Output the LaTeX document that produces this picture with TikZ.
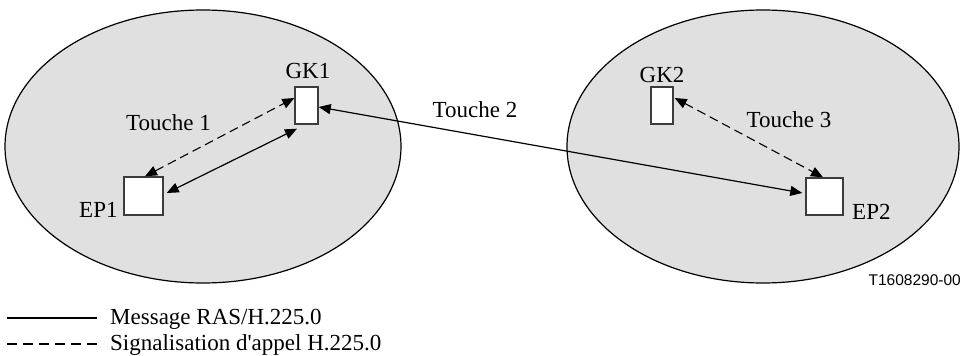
\documentclass[tikz,border=0pt]{standalone}
\usepackage{fontspec}
\setmainfont{Liberation Serif}
\newfontfamily\labsans{Liberation Sans}
\usetikzlibrary{arrows.meta}
\definecolor{zonegray}{RGB}{224,224,224}
\definecolor{boxline}{RGB}{60,60,60}
\begin{document}
\begin{tikzpicture}[x=1pt,y=-1pt,
  zone/.style={draw=black,line width=1.2pt,fill=zonegray},
  unit/.style={draw=boxline,line width=1.4pt,fill=white,inner sep=0pt,minimum width=#1},
  lab/.style={inner sep=0pt,anchor=base,font=\fontsize{23}{27}\selectfont},
  labw/.style={lab,anchor=base west},
  ras/.style={line width=1.2pt,{Triangle[length=12pt,width=10pt]}-{Triangle[length=12pt,width=10pt]}},
  sig/.style={line width=1.1pt,dash pattern=on 9pt off 5pt,{Triangle[length=12pt,width=10pt]}-{Triangle[length=12pt,width=10pt]}},
  legras/.style={line width=1.4pt},
  legsig/.style={line width=1.4pt,dash pattern=on 10pt off 6pt}]
\useasboundingbox (0,0) rectangle (962,356);
% zones
\draw[zone] (203,146.5) ellipse [x radius=198, y radius=136.5];
\draw[zone] (763,146.5) ellipse [x radius=196, y radius=136.5];
% units
\node[unit=23pt,minimum height=37pt] (GK1) at (306.5,105.5) {};
\node[unit=39pt,minimum height=38pt] (EP1) at (143.5,196) {};
\node[unit=22pt,minimum height=37pt] (GK2) at (662,105.5) {};
\node[unit=37pt,minimum height=37pt] (EP2) at (824.5,196.5) {};
% labels
\node[lab] (tGK1) at (308,78) {GK1};
\node[lab] (tGK2) at (662,82) {GK2};
\node[labw] (tEP1) at (79,217) {EP1};
\node[labw] (tEP2) at (852,219) {EP2};
\node[lab] (t1) at (168.5,130) {Touche 1};
\node[lab] (t2) at (475,117) {Touche 2};
\node[lab] (t3) at (789,127) {Touche 3};
% connectors
\draw[sig] ([xshift=1.5pt]EP1.north) -- ([yshift=7.5pt]GK1.west);
\draw[ras] ([xshift=3pt,yshift=3pt]EP1.east) -- ([xshift=-9.5pt,yshift=-4pt]GK1.south);
\draw[ras] ([yshift=-1.5pt]GK1.east) -- ([xshift=-3pt,yshift=3.5pt]EP2.west);
\draw[sig] ([xshift=1pt,yshift=7.5pt]GK2.east) -- ([xshift=-1.5pt]EP2.north);
% legend
\coordinate (la1) at (7,318);
\coordinate (la2) at (97,318);
\coordinate (lb1) at (7,344);
\coordinate (lb2) at (97,344);
\draw[legras] (la1) -- (la2);
\draw[legsig] (lb1) -- (lb2);
\node[labw] (lega) at (110,324) {Message RAS/H.225.0};
\node[labw] (legb) at (110,350) {Signalisation d\textquotesingle appel H.225.0};
\node[inner sep=0pt,anchor=base east,font=\labsans\fontsize{15.5}{18}\selectfont] (ref) at (961,285) {T1608290-00};
\end{tikzpicture}
\end{document}
